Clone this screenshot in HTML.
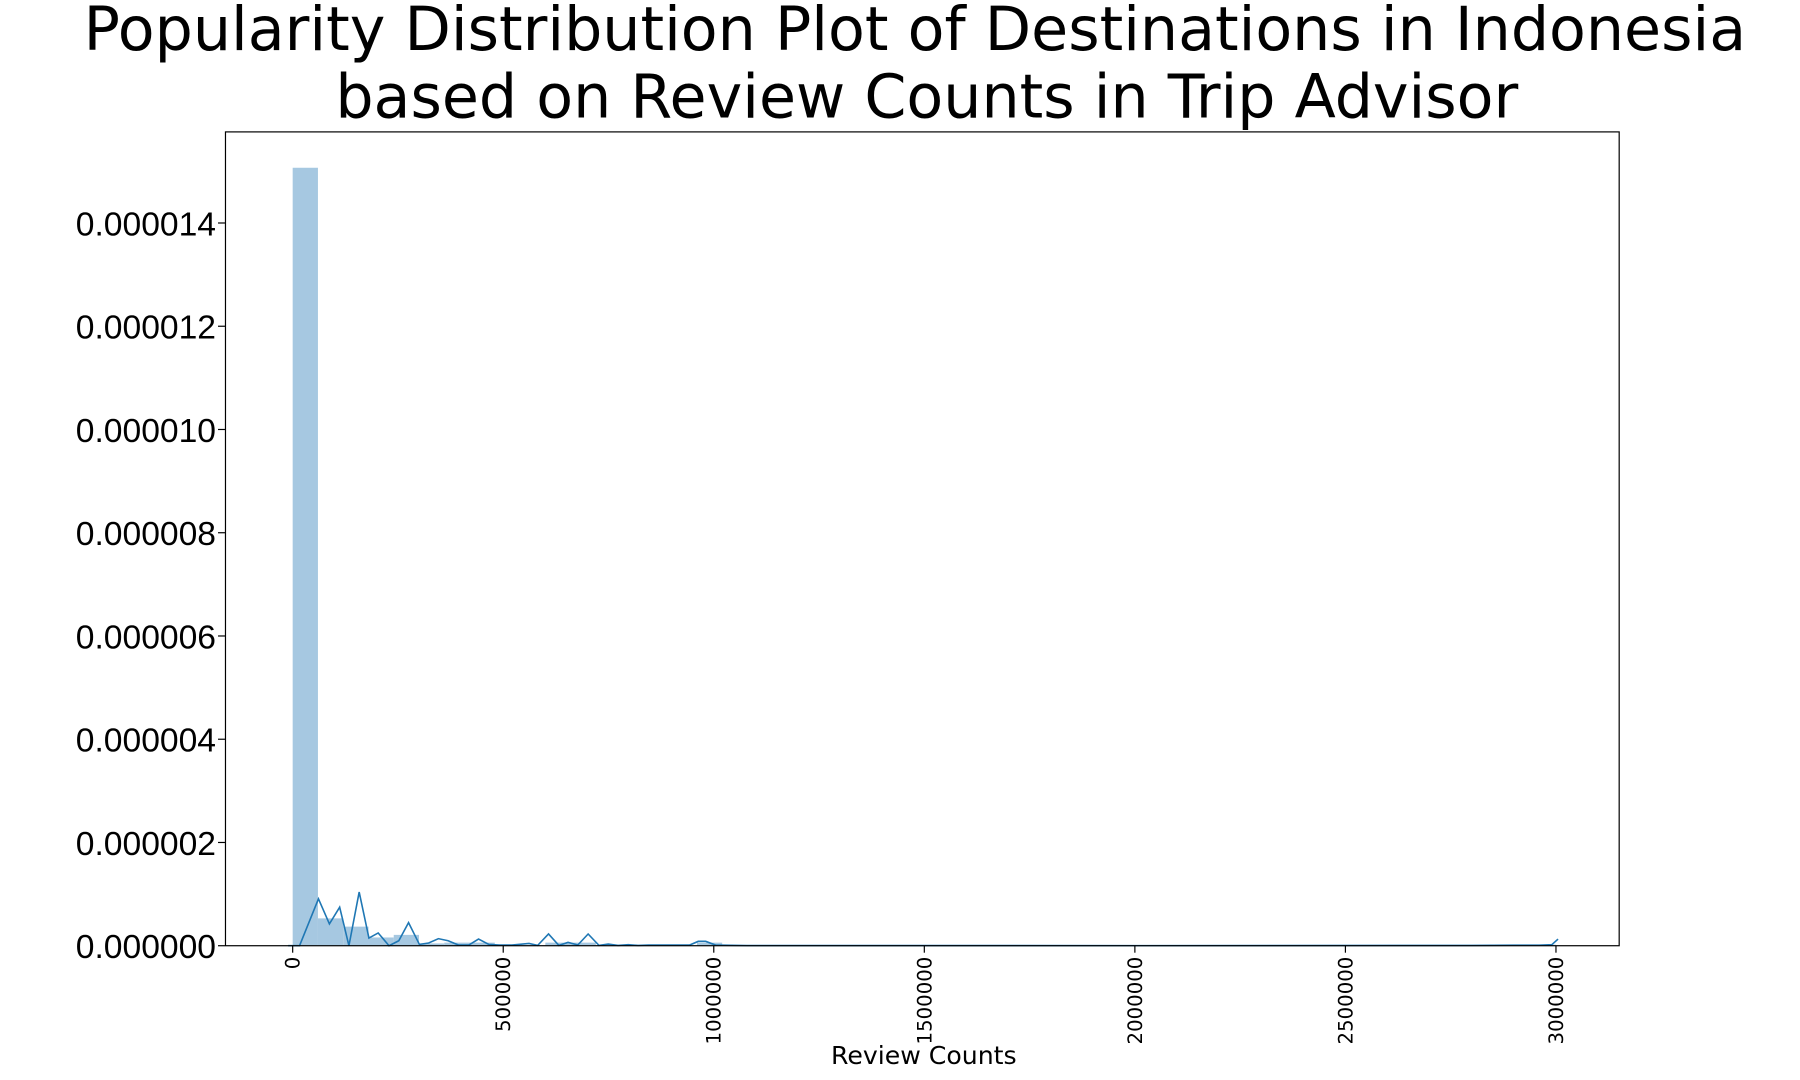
<!DOCTYPE html>
<html><head><meta charset="utf-8"><style>
html,body{margin:0;padding:0;background:#fff;width:1800px;height:1080px;overflow:hidden}
svg{display:block}
</style></head><body>
<svg id="chart" width="1800" height="1080" xmlns="http://www.w3.org/2000/svg">
<g transform="scale(0.9955)">
<g font-family="DejaVu Sans, sans-serif" font-size="60.5" fill="#000" text-anchor="middle">
<text x="919" y="50">Popularity Distribution Plot of Destinations in Indonesia</text>
<text x="931" y="118">based on Review Counts in Trip Advisor</text>
</g>
<g id="bars"></g>
<g id="kde"></g>
<rect x="226.5" y="132.5" width="1400" height="817.5" fill="none" stroke="#000" stroke-width="1.2"/>
<g id="xt"></g>
<g id="yt"></g>
<text x="928" y="1069" font-family="DejaVu Sans, sans-serif" font-size="25.3" text-anchor="middle">Review Counts</text>
</g>
</svg>
<script>
const binWidth = 60000;
const binHeights = [1.507e-5,5.3e-7,3.7e-7,1.6e-7,2.1e-7,0.45e-7,0.6e-7,0.6e-7,0.2e-7,0.1e-7,0.6e-7,0.6e-7,0.1e-7,0.05e-7,0.05e-7,0.05e-7,0.6e-7,0.05e-7,0.02e-7,0.02e-7,0,0,0,0,0,0,0,0,0,0,0,0,0,0,0,0,0,0,0,0,0,0,0,0,0.01e-7,0.02e-7,0.03e-7,0.05e-7,0.1e-7,0.2e-7];
const lineX = [-10900,16300,61300,87200,111700,133500,158000,181200,203000,228900,252000,275200,301000,322900,346000,369200,393700,418300,441400,465900,490500,520400,561300,581700,607600,632200,654000,677100,701600,727500,749300,772500,797000,820200,844700,942800,963200,980900,1004100,1079000,2000000,2800000,2900000,2960000,2990000,3005000];
const lineY = [0,0,0.909e-6,0.422e-6,0.747e-6,0,1.039e-6,0.149e-6,0.247e-6,0,0.097e-6,0.448e-6,0.026e-6,0.052e-6,0.136e-6,0.097e-6,0.013e-6,0.013e-6,0.130e-6,0.026e-6,0.013e-6,0.013e-6,0.045e-6,0.006e-6,0.227e-6,0.006e-6,0.065e-6,0.013e-6,0.227e-6,0.006e-6,0.032e-6,0.006e-6,0.019e-6,0.006e-6,0.013e-6,0.013e-6,0.084e-6,0.084e-6,0.013e-6,0.003e-6,0.002e-6,0.005e-6,0.01e-6,0.01e-6,0.02e-6,0.13e-6];
const xTicks = [0,500000,1000000,1500000,2000000,2500000,3000000];
const xTickLabels = ["0","500000","1000000","1500000","2000000","2500000","3000000"];
const yTicks = [0,2e-6,4e-6,6e-6,8e-6,10e-6,12e-6,14e-6];
const yTickLabels = ["0.000000","0.000002","0.000004","0.000006","0.000008","0.000010","0.000012","0.000014"];

const NS="http://www.w3.org/2000/svg";
const X = v => 294 + v*(1563-294)/3000000;
const Y = v => 950 - v*(950-224)/14e-6;
function mk(t,p){const e=document.createElementNS(NS,t);for(const k in p)e.setAttribute(k,p[k]);return e;}
const bars=document.getElementById('bars');
binHeights.forEach((h,i)=>{
  const x0=X(i*binWidth), x1=X((i+1)*binWidth);
  const r=mk('rect',{x:x0,y:Y(h),width:x1-x0,height:950-Y(h),fill:'#a6c8e1'});
  
  
  bars.appendChild(r);
});
const pts=lineX.map((v,i)=>X(v).toFixed(1)+','+Y(lineY[i]).toFixed(1)).join(' ');
const pl=mk('polyline',{points:pts,fill:'none',stroke:'#1f77b4','stroke-width':1.6});


document.getElementById('kde').appendChild(pl);
const xt=document.getElementById('xt');
xTicks.forEach((v,i)=>{
  const x=X(v);
  xt.appendChild(mk('line',{x1:x,y1:950,x2:x,y2:957,stroke:'#000','stroke-width':1.2}));
  const t=mk('text',{x:0,y:0,transform:`translate(${x+7},961) rotate(-90)`,'text-anchor':'end','font-family':'DejaVu Sans, sans-serif','font-size':19.8});
  t.textContent=xTickLabels[i];
  
  
  xt.appendChild(t);
});
const yt=document.getElementById('yt');
yTicks.forEach((v,i)=>{
  const y=Y(v);
  yt.appendChild(mk('line',{x1:219,y1:y,x2:226,y2:y,stroke:'#000','stroke-width':1.2}));
  const t=mk('text',{x:217,y:y+12.5,'text-anchor':'end','font-family':'Liberation Sans, sans-serif','font-size':33.8});
  t.textContent=yTickLabels[i];
  
  
  yt.appendChild(t);
});
</script>
</body></html>
